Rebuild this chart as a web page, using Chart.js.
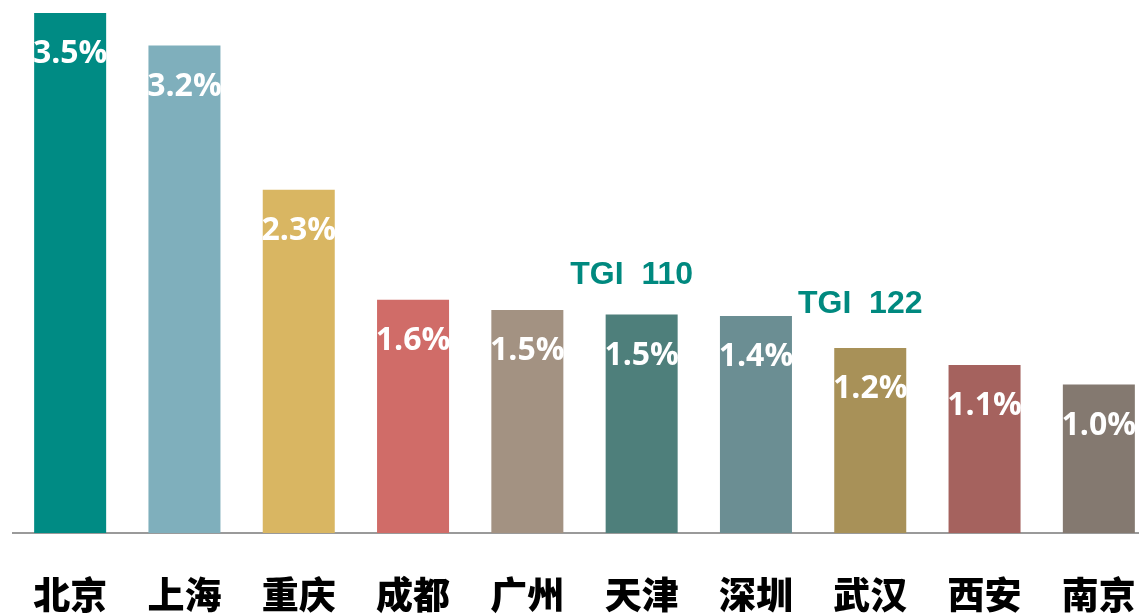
<!DOCTYPE html>
<html><head><meta charset="utf-8">
<script src="https://cdn.jsdelivr.net/npm/chart.js@4.4.0/dist/chart.umd.min.js"></script>
<style>
html,body{margin:0;padding:0;background:#fff;overflow:hidden;width:1139px;height:615px;}
#wrap{position:absolute;left:0;top:0;width:1156px;height:615px;}
</style></head>
<body>
<div id="wrap"><canvas id="c" width="1156" height="615"></canvas></div>
<script>
const categories = ["北京","上海","重庆","成都","广州","天津","深圳","武汉","西安","南京"];
const values = [3.5, 3.28, 2.31, 1.57, 1.5, 1.47, 1.46, 1.245, 1.13, 1.0];
const valueLabels = ["3.5%","3.2%","2.3%","1.6%","1.5%","1.5%","1.4%","1.2%","1.1%","1.0%"];
const barColors = ["#008B84","#7FAFBC","#D9B662","#D06C68","#A39282","#4E7F7B","#6B8E93","#A89158","#A5625E","#847970"];
const tgi = [null,null,null,null,null,110,null,122,null,null];

const labelPlugin = {
  id:'labels',
  afterDatasetsDraw(chart){
    const ctx = chart.ctx;
    const meta = chart.getDatasetMeta(0);
    ctx.save();
    ctx.textAlign='center';
    ctx.textBaseline='middle';
    meta.data.forEach((bar,i)=>{
      ctx.fillStyle='#ffffff';
      ctx.font='bold 32px "Open Sans", "Noto Sans", sans-serif';
      ctx.fillText(valueLabels[i], bar.x, bar.y+41);
      if(tgi[i]!==null){
        ctx.fillStyle='#00897F';
        ctx.font='bold 32px "Liberation Sans", Arial, sans-serif';
        ctx.fillText('TGI  '+tgi[i], bar.x-10, bar.y-(i===5?39:44));
      }
    });
    ctx.restore();
  }
};

new Chart(document.getElementById('c'),{
  type:'bar',
  data:{labels:categories,datasets:[{data:values,backgroundColor:barColors,barPercentage:0.63,categoryPercentage:1.0}]},
  options:{
    responsive:false,animation:false,
    layout:{padding:{left:13,right:0,top:0,bottom:0}},
    plugins:{legend:{display:false},tooltip:{enabled:false}},
    scales:{
      x:{
        grid:{display:false,drawTicks:false},
        border:{display:true,color:'#9a9a9a',width:2},
        ticks:{color:'#000',padding:40,maxRotation:0,autoSkip:false,font:{family:'"Noto Sans CJK SC", sans-serif',size:37,weight:'900'}},
        afterFit(s){ s.paddingLeft=0; s.paddingRight=0; s.height=82; }
      },
      y:{display:false,min:0,max:3.587}
    }
  },
  plugins:[labelPlugin]
});
</script>
</body></html>
